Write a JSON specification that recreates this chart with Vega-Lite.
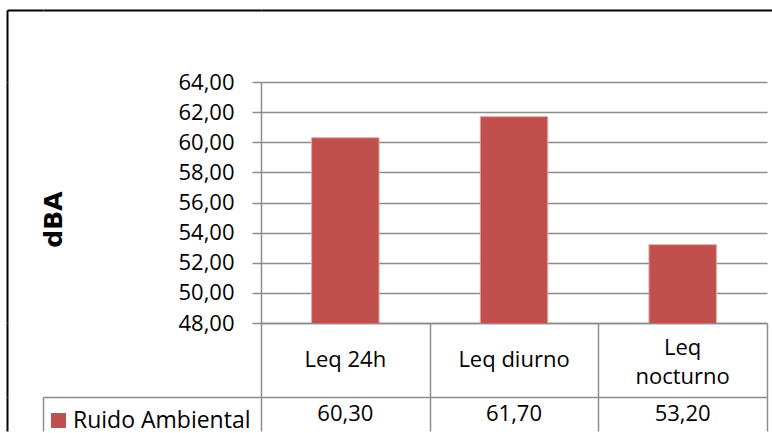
{
  "$schema": "https://vega.github.io/schema/vega-lite/v6.json",
  "padding": {"left": 4, "top": 10, "right": 0, "bottom": 0},
  "autosize": {"type": "pad"},
  "background": "white",
  "columns": 3,
  "align": "each",
  "bounds": "flush",
  "spacing": 0,
  "resolve": {"scale": {"color": "independent"}, "legend": {"color": "independent"}},
  "datasets": {
    "leq": [
      {"periodo": "Leq 24h", "serie": "Ruido Ambiental", "dBA": 60.3},
      {"periodo": "Leq diurno", "serie": "Ruido Ambiental", "dBA": 61.7},
      {"periodo": "Leq\nnocturno", "serie": "Ruido Ambiental", "dBA": 53.2}
    ],
    "blank": [{"k": 0}]
  },
  "config": {
    "locale": {"number": {"decimal": ",", "thousands": ".", "grouping": [3], "currency": ["", " €"]}},
    "view": {"stroke": null},
    "font": "Open Sans",
    "axis": {
      "labelFont": "Open Sans",
      "labelFontSize": 22,
      "labelColor": "black",
      "domainColor": "#8C8C8C",
      "domainWidth": 1.5,
      "tickColor": "#8C8C8C",
      "tickWidth": 1.5,
      "gridColor": "#8C8C8C",
      "gridWidth": 1.5
    }
  },
  "concat": [
    {
      "width": 36, "height": 72,
      "data": {"name": "blank"},
      "mark": {"type": "point", "opacity": 0},
      "encoding": {
        "x": {"datum": 0, "type": "quantitative", "scale": {"domain": [0, 1]},
          "axis": {"orient": "top", "domainColor": "black", "domainWidth": 2, "labels": false, "ticks": false, "grid": false, "title": null}},
        "y": {"datum": 0, "type": "quantitative", "scale": {"domain": [0, 1]},
          "axis": {"orient": "left", "domainColor": "black", "domainWidth": 2, "labels": false, "ticks": false, "grid": false, "title": null}}
      }
    },
    {
      "width": 218, "height": 72,
      "data": {"name": "blank"},
      "mark": {"type": "point", "opacity": 0},
      "encoding": {
        "x": {"datum": 0, "type": "quantitative", "scale": {"domain": [0, 1]},
          "axis": {"orient": "top", "domainColor": "black", "domainWidth": 2, "labels": false, "ticks": false, "grid": false, "title": null}}
      }
    },
    {
      "width": 511, "height": 72,
      "data": {"name": "blank"},
      "mark": {"type": "point", "opacity": 0},
      "encoding": {
        "x": {"datum": 0, "type": "quantitative", "scale": {"domain": [0, 1]},
          "axis": {"orient": "top", "domainColor": "black", "domainWidth": 2, "labels": false, "ticks": false, "grid": false, "title": null}}
      }
    },
    {
      "width": 36, "height": 241,
      "data": {"name": "blank"},
      "mark": {"type": "point", "opacity": 0},
      "encoding": {
        "y": {"datum": 0, "type": "quantitative", "scale": {"domain": [0, 1]},
          "axis": {"orient": "left", "domainColor": "black", "domainWidth": 2, "labels": false, "ticks": false, "grid": false, "title": null}}
      }
    },
    {
      "width": 218, "height": 241,
      "data": {"name": "blank"},
      "mark": {"type": "point", "opacity": 0},
      "encoding": {}
    },
    {
      "width": 506,
      "height": 241,
      "data": {"name": "leq"},
      "mark": {"type": "bar", "color": "#C0504D", "stroke": "#E3A8A6", "strokeWidth": 1, "clip": true},
      "encoding": {
        "x": {"field": "periodo", "type": "nominal", "sort": null,
          "scale": {"paddingInner": 0.6, "paddingOuter": 0.3},
          "axis": {"labels": false, "ticks": false, "title": null, "grid": false}},
        "y": {"field": "dBA", "type": "quantitative",
          "scale": {"domain": [48, 64], "zero": false, "nice": false},
          "axis": {
            "values": [48, 50, 52, 54, 56, 58, 60, 62, 64],
            "format": ".2f",
            "grid": true,
            "tickSize": 9,
            "labelPadding": 18,
            "title": "dBA",
            "titleFont": "DejaVu Sans",
            "titleFontWeight": "bold",
            "titleFontSize": 25,
            "titleColor": "black",
            "titleAngle": -90,
            "titleBaseline": "middle",
            "titleAlign": "center",
            "titleX": -208,
            "titleY": 137
          }}
      }
    },
    {
      "width": 36, "height": 74,
      "data": {"name": "blank"},
      "mark": {"type": "point", "opacity": 0},
      "encoding": {
        "y": {"datum": 0, "type": "quantitative", "scale": {"domain": [0, 1]},
          "axis": {"orient": "left", "domainColor": "black", "domainWidth": 2, "labels": false, "ticks": false, "grid": false, "title": null}}
      }
    },
    {
      "width": 218, "height": 74,
      "data": {"name": "blank"},
      "mark": {"type": "point", "opacity": 0},
      "encoding": {}
    },
    {
      "width": 506,
      "height": 74,
      "data": {"name": "leq"},
      "encoding": {
        "x": {"field": "periodo", "type": "nominal", "sort": null,
          "scale": {"paddingInner": 0, "paddingOuter": 0},
          "axis": {"orient": "bottom", "labels": false, "ticks": false, "domain": false, "grid": true, "tickBand": "extent", "title": null}},
        "text": {"field": "periodo"}
      },
      "layer": [
        {
          "transform": [{"filter": "indexof(datum.periodo, '\\n') < 0"}],
          "mark": {"type": "text", "font": "Open Sans", "fontSize": 22, "color": "black"}
        },
        {
          "transform": [{"filter": "indexof(datum.periodo, '\\n') >= 0"}],
          "mark": {"type": "text", "font": "Open Sans", "fontSize": 22, "color": "black", "lineBreak": "\n", "lineHeight": 29, "dy": -12}
        }
      ]
    },
    {
      "width": 36, "height": 34,
      "data": {"name": "blank"},
      "mark": {"type": "point", "opacity": 0},
      "encoding": {
        "y": {"datum": 0, "type": "quantitative", "scale": {"domain": [0, 1]},
          "axis": {"orient": "left", "domainColor": "black", "domainWidth": 2, "labels": false, "ticks": false, "grid": false, "title": null}}
      }
    },
    {
      "width": 218,
      "height": 34,
      "data": {"name": "blank"},
      "mark": {"type": "point", "opacity": 0},
      "encoding": {
        "x": {"datum": 0, "type": "quantitative", "scale": {"domain": [0, 1]},
          "axis": {"orient": "top", "labels": false, "ticks": false, "grid": false, "title": null}},
        "y": {"datum": 0, "type": "quantitative", "scale": {"domain": [0, 1]},
          "axis": {"orient": "left", "labels": false, "ticks": false, "grid": false, "title": null}}
      }
    },
    {
      "width": 506,
      "height": 34,
      "layer": [
        {
          "data": {"name": "leq"},
          "mark": {"type": "text", "font": "Open Sans", "fontSize": 22, "color": "black"},
          "encoding": {
            "x": {"field": "periodo", "type": "nominal", "sort": null,
              "scale": {"paddingInner": 0, "paddingOuter": 0},
              "axis": {"orient": "top", "labels": false, "ticks": false, "domain": true, "grid": true, "tickBand": "extent", "title": null}},
            "text": {"field": "dBA", "type": "quantitative", "format": ".2f"}
          }
        },
        {
          "data": {"name": "leq"},
          "transform": [{"filter": "false"}],
          "mark": {"type": "square"},
          "encoding": {
            "color": {"field": "serie", "type": "nominal",
              "scale": {"domain": ["Ruido Ambiental"], "range": ["#C0504D"]},
              "legend": {
                "orient": "left",
                "title": null,
                "offset": -2,
                "padding": 12,
                "symbolType": "square",
                "symbolSize": 225,
                "symbolStrokeWidth": 0,
                "symbolOpacity": 1,
                "labelFont": "Open Sans",
                "labelFontSize": 23,
                "labelColor": "black",
                "labelOffset": 3,
                "labelLimit": 400
              }}
          }
        }
      ]
    }
  ]
}
